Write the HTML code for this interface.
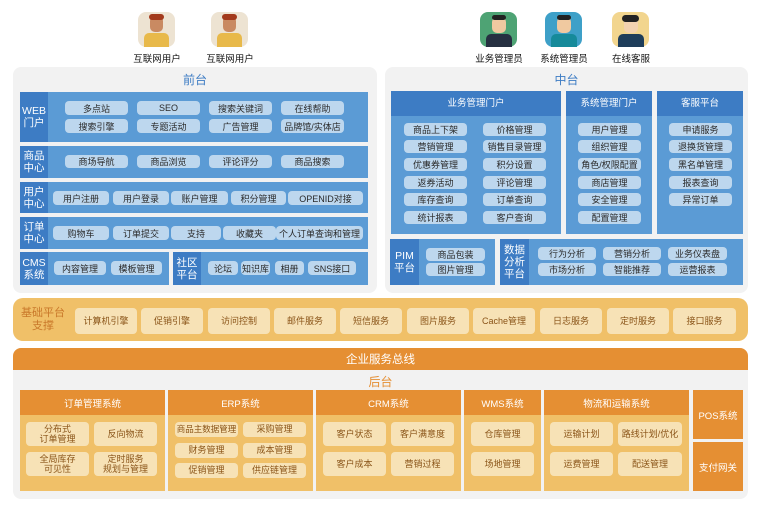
<!DOCTYPE html>
<html><head><meta charset="utf-8"><style>
*{margin:0;padding:0;box-sizing:border-box}
body{width:760px;height:507px;background:#fff;position:relative;overflow:hidden;font-family:"Liberation Sans","Noto Sans CJK SC",sans-serif}
div{position:absolute}
.c{display:flex;align-items:center;justify-content:center;text-align:center}
.pan{background:#f2f2f2;border-radius:8px}
.bb{background:#5b9bd5}
.bd{background:#3d7cc4;color:#fff;font-size:10.5px;line-height:12px}
.p{background:#bdd7ee;border-radius:4px;color:#2a2a2a;font-size:9px;display:flex;align-items:center;justify-content:center;white-space:nowrap}
.o{background:#f7e2b6;border-radius:4px;color:#8a5418;font-size:9px;display:flex;align-items:center;justify-content:center;text-align:center;line-height:10.5px;white-space:nowrap}
.oh{background:#e58f33;color:#fff;font-size:9.5px}
.ob{background:#f0c068}
.ic{width:37px;height:35px;border-radius:8px}
.lb{font-size:9.5px;color:#111;width:80px;text-align:center}
</style></head><body>
<div class="ic" style="left:138px;top:12px;background:#ede3d2"><div style="left:12px;top:4px;width:13px;height:16px;background:#c98a62;border-radius:5px"></div><div style="left:11px;top:2px;width:15px;height:6px;background:#a33a1c;border-radius:3px"></div><div style="left:6px;top:21px;width:25px;height:14px;background:#e8b94a;border-radius:5px 5px 0 0"></div></div>
<div class="ic" style="left:211px;top:12px;background:#ede3d2"><div style="left:12px;top:4px;width:13px;height:16px;background:#c98a62;border-radius:5px"></div><div style="left:11px;top:2px;width:15px;height:6px;background:#a33a1c;border-radius:3px"></div><div style="left:6px;top:21px;width:25px;height:14px;background:#e8b94a;border-radius:5px 5px 0 0"></div></div>
<div class="ic" style="left:480px;top:12px;background:#4ea374"><div style="left:12px;top:5px;width:14px;height:16px;background:#f0c9a0;border-radius:5px"></div><div style="left:12px;top:3px;width:14px;height:5px;background:#222;border-radius:3px"></div><div style="left:6px;top:22px;width:26px;height:13px;background:#263041;border-radius:5px 5px 0 0"></div></div>
<div class="ic" style="left:545px;top:12px;background:#3ea0c8"><div style="left:12px;top:5px;width:14px;height:16px;background:#f0c9a0;border-radius:5px"></div><div style="left:12px;top:3px;width:14px;height:5px;background:#222;border-radius:3px"></div><div style="left:6px;top:22px;width:26px;height:13px;background:#168a9a;border-radius:5px 5px 0 0"></div></div>
<div class="ic" style="left:612px;top:12px;background:#f2d58e"><div style="left:12px;top:5px;width:14px;height:16px;background:#f3d2b0;border-radius:5px"></div><div style="left:10px;top:3px;width:17px;height:7px;background:#222;border-radius:4px"></div><div style="left:6px;top:22px;width:26px;height:13px;background:#1e3d5a;border-radius:5px 5px 0 0"></div></div>
<div class="lb" style="left:117px;top:51px">互联网用户</div>
<div class="lb" style="left:190px;top:51px">互联网用户</div>
<div class="lb" style="left:459px;top:51px">业务管理员</div>
<div class="lb" style="left:524px;top:51px">系统管理员</div>
<div class="lb" style="left:591px;top:51px">在线客服</div>

<div class="pan" style="left:13px;top:67px;width:364px;height:226px"></div>
<div class="c" style="left:13px;top:71px;width:364px;height:16px;color:#3d7cc4;font-size:12px">前台</div>
<div class="bb" style="left:20px;top:92px;width:348px;height:50px"></div>
<div class="bd c" style="left:20px;top:92px;width:28px;height:50px">WEB<br>门户</div>
<div class="p" style="left:65px;top:101px;width:63px;height:14px">多点站</div>
<div class="p" style="left:137px;top:101px;width:63px;height:14px">SEO</div>
<div class="p" style="left:209px;top:101px;width:63px;height:14px">搜索关键词</div>
<div class="p" style="left:281px;top:101px;width:63px;height:14px">在线帮助</div>
<div class="p" style="left:65px;top:119px;width:63px;height:14px">搜索引擎</div>
<div class="p" style="left:137px;top:119px;width:63px;height:14px">专题活动</div>
<div class="p" style="left:209px;top:119px;width:63px;height:14px">广告管理</div>
<div class="p" style="left:281px;top:119px;width:63px;height:14px">品牌馆/实体店</div>

<div class="bb" style="left:20px;top:146px;width:348px;height:32px"></div>
<div class="bd c" style="left:20px;top:146px;width:28px;height:32px">商品<br>中心</div>
<div class="p" style="left:65px;top:155px;width:63px;height:13px">商场导航</div>
<div class="p" style="left:137px;top:155px;width:63px;height:13px">商品浏览</div>
<div class="p" style="left:209px;top:155px;width:63px;height:13px">评论评分</div>
<div class="p" style="left:281px;top:155px;width:63px;height:13px">商品搜索</div>

<div class="bb" style="left:20px;top:182px;width:348px;height:31px"></div>
<div class="bd c" style="left:20px;top:182px;width:28px;height:31px">用户<br>中心</div>
<div class="p" style="left:53px;top:191px;width:56px;height:14px">用户注册</div>
<div class="p" style="left:113px;top:191px;width:56px;height:14px">用户登录</div>
<div class="p" style="left:171px;top:191px;width:57px;height:14px">账户管理</div>
<div class="p" style="left:231px;top:191px;width:55px;height:14px">积分管理</div>
<div class="p" style="left:288px;top:191px;width:75px;height:14px">OPENID对接</div>

<div class="bb" style="left:20px;top:217px;width:348px;height:32px"></div>
<div class="bd c" style="left:20px;top:217px;width:28px;height:32px">订单<br>中心</div>
<div class="p" style="left:53px;top:226px;width:56px;height:14px">购物车</div>
<div class="p" style="left:113px;top:226px;width:56px;height:14px">订单提交</div>
<div class="p" style="left:171px;top:226px;width:50px;height:14px">支持</div>
<div class="p" style="left:223px;top:226px;width:53px;height:14px">收藏夹</div>
<div class="p" style="left:276px;top:226px;width:87px;height:14px">个人订单查询和管理</div>

<div class="bb" style="left:20px;top:252px;width:149px;height:33px"></div>
<div class="bd c" style="left:20px;top:252px;width:28px;height:33px">CMS<br>系统</div>
<div class="p" style="left:54px;top:261px;width:52px;height:14px">内容管理</div>
<div class="p" style="left:111px;top:261px;width:51px;height:14px">模板管理</div>
<div class="bb" style="left:173px;top:252px;width:195px;height:33px"></div>
<div class="bd c" style="left:173px;top:252px;width:28px;height:33px">社区<br>平台</div>
<div class="p" style="left:208px;top:261px;width:30px;height:14px">论坛</div>
<div class="p" style="left:241px;top:261px;width:29px;height:14px">知识库</div>
<div class="p" style="left:275px;top:261px;width:29px;height:14px">相册</div>
<div class="p" style="left:308px;top:261px;width:48px;height:14px">SNS接口</div>

<div class="pan" style="left:385px;top:67px;width:363px;height:226px"></div>
<div class="c" style="left:385px;top:71px;width:363px;height:16px;color:#3d7cc4;font-size:12px">中台</div>
<div class="bb" style="left:391px;top:91px;width:170px;height:143px"></div>
<div class="bd c" style="left:391px;top:91px;width:170px;height:25px;font-size:9.5px">业务管理门户</div>
<div class="bb" style="left:566px;top:91px;width:86px;height:143px"></div>
<div class="bd c" style="left:566px;top:91px;width:86px;height:25px;font-size:9.5px">系统管理门户</div>
<div class="bb" style="left:657px;top:91px;width:86px;height:143px"></div>
<div class="bd c" style="left:657px;top:91px;width:86px;height:25px;font-size:9.5px">客服平台</div>
<div class="p" style="left:404px;top:123px;width:63px;height:13px">商品上下架</div>
<div class="p" style="left:483px;top:123px;width:63px;height:13px">价格管理</div>
<div class="p" style="left:404px;top:140px;width:63px;height:13px">营销管理</div>
<div class="p" style="left:483px;top:140px;width:63px;height:13px">销售目录管理</div>
<div class="p" style="left:404px;top:158px;width:63px;height:13px">优惠券管理</div>
<div class="p" style="left:483px;top:158px;width:63px;height:13px">积分设置</div>
<div class="p" style="left:404px;top:176px;width:63px;height:13px">返券活动</div>
<div class="p" style="left:483px;top:176px;width:63px;height:13px">评论管理</div>
<div class="p" style="left:404px;top:193px;width:63px;height:13px">库存查询</div>
<div class="p" style="left:483px;top:193px;width:63px;height:13px">订单查询</div>
<div class="p" style="left:404px;top:211px;width:63px;height:13px">统计报表</div>
<div class="p" style="left:483px;top:211px;width:63px;height:13px">客户查询</div>
<div class="p" style="left:578px;top:123px;width:63px;height:13px">用户管理</div>
<div class="p" style="left:578px;top:140px;width:63px;height:13px">组织管理</div>
<div class="p" style="left:578px;top:158px;width:63px;height:13px">角色/权限配置</div>
<div class="p" style="left:578px;top:176px;width:63px;height:13px">商店管理</div>
<div class="p" style="left:578px;top:193px;width:63px;height:13px">安全管理</div>
<div class="p" style="left:578px;top:211px;width:63px;height:13px">配置管理</div>
<div class="p" style="left:669px;top:123px;width:63px;height:13px">申请服务</div>
<div class="p" style="left:669px;top:140px;width:63px;height:13px">退换货管理</div>
<div class="p" style="left:669px;top:158px;width:63px;height:13px">黑名单管理</div>
<div class="p" style="left:669px;top:176px;width:63px;height:13px">报表查询</div>
<div class="p" style="left:669px;top:193px;width:63px;height:13px">异常订单</div>

<div class="bb" style="left:390px;top:239px;width:105px;height:46px"></div>
<div class="bd c" style="left:390px;top:239px;width:29px;height:46px">PIM<br>平台</div>
<div class="p" style="left:426px;top:248px;width:59px;height:13px">商品包装</div>
<div class="p" style="left:426px;top:263px;width:59px;height:13px">图片管理</div>
<div class="bb" style="left:500px;top:239px;width:243px;height:46px"></div>
<div class="bd c" style="left:500px;top:239px;width:29px;height:46px">数据<br>分析<br>平台</div>
<div class="p" style="left:538px;top:247px;width:58px;height:13px">行为分析</div>
<div class="p" style="left:603px;top:247px;width:58px;height:13px">营销分析</div>
<div class="p" style="left:668px;top:247px;width:59px;height:13px">业务仪表盘</div>
<div class="p" style="left:538px;top:263px;width:58px;height:13px">市场分析</div>
<div class="p" style="left:603px;top:263px;width:58px;height:13px">智能推荐</div>
<div class="p" style="left:668px;top:263px;width:59px;height:13px">运营报表</div>

<div class="ob" style="left:13px;top:298px;width:735px;height:43px;border-radius:10px"></div>
<div class="c" style="left:15px;top:304px;width:56px;height:32px;color:#c9782a;font-size:11px;line-height:13px">基础平台<br>支撑</div>
<div class="o" style="left:75px;top:308px;width:62px;height:26px">计算机引擎</div>
<div class="o" style="left:141px;top:308px;width:62px;height:26px">促销引擎</div>
<div class="o" style="left:208px;top:308px;width:62px;height:26px">访问控制</div>
<div class="o" style="left:274px;top:308px;width:62px;height:26px">邮件服务</div>
<div class="o" style="left:340px;top:308px;width:62px;height:26px">短信服务</div>
<div class="o" style="left:407px;top:308px;width:62px;height:26px">图片服务</div>
<div class="o" style="left:473px;top:308px;width:62px;height:26px">Cache管理</div>
<div class="o" style="left:540px;top:308px;width:62px;height:26px">日志服务</div>
<div class="o" style="left:607px;top:308px;width:62px;height:26px">定时服务</div>
<div class="o" style="left:673px;top:308px;width:63px;height:26px">接口服务</div>

<div class="pan" style="left:13px;top:348px;width:735px;height:151px"></div>
<div class="oh c" style="left:13px;top:348px;width:735px;height:22px;border-radius:8px 8px 0 0;font-size:11.5px">企业服务总线</div>
<div class="c" style="left:13px;top:373px;width:735px;height:16px;color:#e58f33;font-size:12px">后台</div>

<div class="ob" style="left:20px;top:390px;width:145px;height:101px"></div>
<div class="oh c" style="left:20px;top:390px;width:145px;height:25px">订单管理系统</div>
<div class="o" style="left:26px;top:422px;width:63px;height:24px">分布式<br>订单管理</div>
<div class="o" style="left:94px;top:422px;width:63px;height:24px">反向物流</div>
<div class="o" style="left:26px;top:452px;width:63px;height:24px">全局库存<br>可见性</div>
<div class="o" style="left:94px;top:452px;width:63px;height:24px">定时服务<br>规划与管理</div>

<div class="ob" style="left:168px;top:390px;width:145px;height:101px"></div>
<div class="oh c" style="left:168px;top:390px;width:145px;height:25px">ERP系统</div>
<div class="o" style="left:175px;top:422px;width:63px;height:15px;font-size:8.5px">商品主数据管理</div>
<div class="o" style="left:243px;top:422px;width:63px;height:15px">采购管理</div>
<div class="o" style="left:175px;top:443px;width:63px;height:15px">财务管理</div>
<div class="o" style="left:243px;top:443px;width:63px;height:15px">成本管理</div>
<div class="o" style="left:175px;top:463px;width:63px;height:15px">促销管理</div>
<div class="o" style="left:243px;top:463px;width:63px;height:15px">供应链管理</div>

<div class="ob" style="left:316px;top:390px;width:145px;height:101px"></div>
<div class="oh c" style="left:316px;top:390px;width:145px;height:25px">CRM系统</div>
<div class="o" style="left:323px;top:422px;width:63px;height:24px">客户状态</div>
<div class="o" style="left:391px;top:422px;width:63px;height:24px">客户满意度</div>
<div class="o" style="left:323px;top:452px;width:63px;height:24px">客户成本</div>
<div class="o" style="left:391px;top:452px;width:63px;height:24px">营销过程</div>

<div class="ob" style="left:464px;top:390px;width:77px;height:101px"></div>
<div class="oh c" style="left:464px;top:390px;width:77px;height:25px">WMS系统</div>
<div class="o" style="left:471px;top:422px;width:63px;height:24px">仓库管理</div>
<div class="o" style="left:471px;top:452px;width:63px;height:24px">场地管理</div>

<div class="ob" style="left:544px;top:390px;width:145px;height:101px"></div>
<div class="oh c" style="left:544px;top:390px;width:145px;height:25px">物流和运输系统</div>
<div class="o" style="left:550px;top:422px;width:63px;height:24px">运输计划</div>
<div class="o" style="left:618px;top:422px;width:64px;height:24px">路线计划/优化</div>
<div class="o" style="left:550px;top:452px;width:63px;height:24px">运费管理</div>
<div class="o" style="left:618px;top:452px;width:64px;height:24px">配送管理</div>

<div class="oh c" style="left:693px;top:390px;width:50px;height:49px">POS系统</div>
<div class="oh c" style="left:693px;top:442px;width:50px;height:49px">支付网关</div>
</body></html>
